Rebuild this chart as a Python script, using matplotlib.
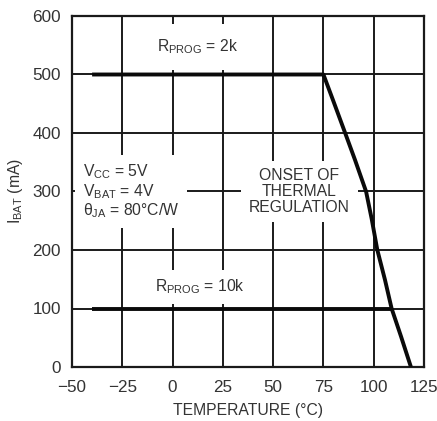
import matplotlib
matplotlib.use("Agg")
import matplotlib.pyplot as plt
from matplotlib import font_manager

# curva de corrente de carga vs temperatura (RPROG = 2k e 10k)
temp_2k = [-40, 75, 80, 85.8, 90.7, 96.2, 99, 101.8, 105.6, 108.9, 113.6, 118.5]
ibat_2k = [500, 500, 454, 400, 354, 300, 253, 200, 149, 100, 52, 0]
temp_10k = [-40, 108.9]
ibat_10k = [100, 100]

xticks = [-50, -25, 0, 25, 50, 75, 100, 125]
yticks = [0, 100, 200, 300, 400, 500, 600]

# fonte estreita para os textos, se existir
try:
    font_manager.findfont("Liberation Sans Narrow", fallback_to_default=False)
    fonte_txt = "Liberation Sans Narrow"
    tam_txt = 12.8
except ValueError:
    fonte_txt = "Liberation Sans"
    tam_txt = 11.3
fonte_num = "Liberation Sans"

plt.rcParams["font.family"] = [fonte_txt, "DejaVu Sans"]
plt.rcParams["mathtext.fontset"] = "custom"
plt.rcParams["mathtext.rm"] = fonte_txt
tam = 12.3
cor_txt = "#333333"

fig = plt.figure(figsize=(4.37, 4.21), dpi=100)
ax = fig.add_axes([72 / 437, 1 - 367 / 421, (424 - 72) / 437, (367 - 16) / 421])

ax.set_xlim(-50, 125)
ax.set_ylim(0, 600)
ax.set_xticks(xticks)
ax.set_yticks(yticks)
ax.set_xticklabels([str(t).replace("-", "\u2212") for t in xticks],
                   family=fonte_num, fontsize=tam, color=cor_txt)
ax.set_yticklabels([str(t) for t in yticks], family=fonte_num, fontsize=tam, color=cor_txt)
ax.tick_params(axis="both", length=0)
ax.tick_params(axis="x", pad=9)
ax.tick_params(axis="y", pad=8)
ax.grid(True, color="#1a1a1a", linewidth=1.4, zorder=1)
ax.set_axisbelow(True)
for s in ax.spines.values():
    s.set_linewidth(1.6)
    s.set_color("#1a1a1a")

ax.plot(temp_2k, ibat_2k, color="#0a0a0a", linewidth=2.8, zorder=5, solid_capstyle="butt")
ax.plot(temp_10k, ibat_10k, color="#0a0a0a", linewidth=2.8, zorder=5, solid_capstyle="butt")

caixa = dict(facecolor="white", edgecolor="none", boxstyle="square,pad=0.5")

ax.text(12.5, 547, r"R$_{\mathrm{PROG}}$ = 2k", fontsize=tam_txt, color=cor_txt,
        ha="center", va="center", zorder=3,
        bbox=dict(facecolor="white", edgecolor="none", boxstyle="square,pad=0.85"))
ax.text(13.5, 137, r"R$_{\mathrm{PROG}}$ = 10k", fontsize=tam_txt, color=cor_txt,
        ha="center", va="center", zorder=3, bbox=caixa)
ax.text(-44.5, 300, "V$_{\\mathrm{CC}}$ = 5V\nV$_{\\mathrm{BAT}}$ = 4V\n\u03b8$_{\\mathrm{JA}}$ = 80\u00b0C/W",
        fontsize=tam_txt, color=cor_txt, ha="left", va="center", linespacing=1.05,
        zorder=3, bbox=caixa)
ax.text(63, 300, "ONSET OF\nTHERMAL\nREGULATION", fontsize=tam_txt, color=cor_txt,
        ha="center", va="center", multialignment="center", linespacing=1.05,
        zorder=3, bbox=caixa)

ax.set_xlabel("TEMPERATURE (\u00b0C)", fontsize=tam_txt, color=cor_txt, labelpad=6)
ax.set_ylabel("I$_{\\mathrm{BAT}}$ (mA)", fontsize=tam_txt, color=cor_txt, labelpad=5)

fig.savefig("out.png", dpi=100)
